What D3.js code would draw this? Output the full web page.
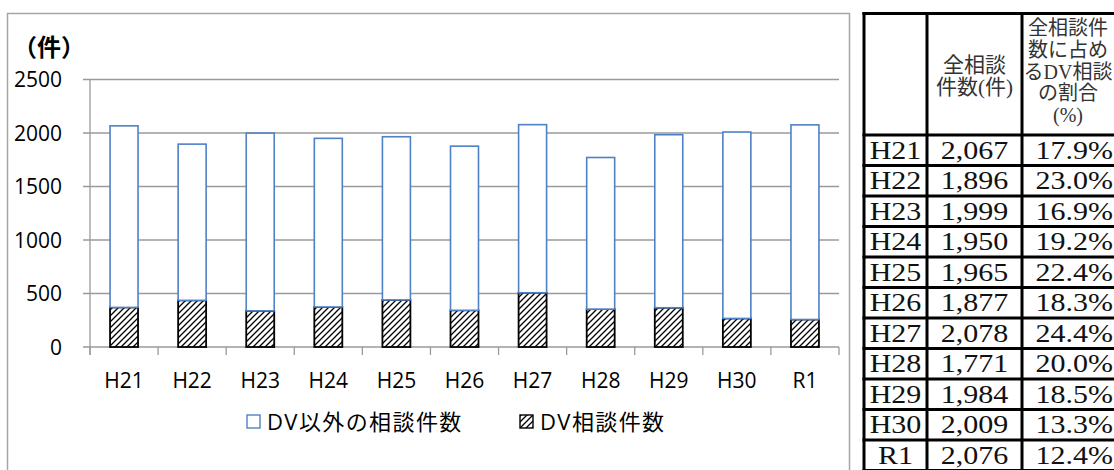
<!DOCTYPE html>
<html>
<head>
<meta charset="utf-8">
<script src="https://cdn.jsdelivr.net/npm/d3@7"></script>
<style>
  body { margin: 0; background: #fff; }
  svg { display: block; }
</style>
</head>
<body>
<svg id="chart" width="1114" height="470"></svg>
<script>
// Données
const categories = ["H21", "H22", "H23", "H24", "H25", "H26", "H27", "H28", "H29", "H30", "R1"];
const totalCounts = [2067, 1896, 1999, 1950, 1965, 1877, 2078, 1771, 1984, 2009, 2076];
const dvRatios = [17.9, 23.0, 16.9, 19.2, 22.4, 18.3, 24.4, 20.0, 18.5, 13.3, 12.4];
const dvCounts = [370, 436, 338, 374, 440, 343, 507, 354, 367, 267, 257];
const otherCounts = [1697, 1460, 1661, 1576, 1525, 1534, 1571, 1417, 1617, 1742, 1819];
const yTicks = [0, 500, 1000, 1500, 2000, 2500];
const seriesNames = ["DV以外の相談件数", "DV相談件数"];
const tableHeader1 = ["全相談", "件数(件)"];
const tableHeader2 = ["全相談件", "数に占め", "るDV相談", "の割合", "(%)"];

const sansFont = "'Open Sans', 'Noto Sans CJK JP', sans-serif";
const cjkFont = "'Noto Sans CJK JP', sans-serif";
const serifFont = "'Liberation Serif', 'Noto Sans CJK JP', serif";

const svg = d3.select("#chart");

// Motif hachuré pour les barres DV
const defs = svg.append("defs");
const hatch = defs.append("pattern")
  .attr("id", "hatch")
  .attr("patternUnits", "userSpaceOnUse")
  .attr("width", 6)
  .attr("height", 6);
hatch.append("rect").attr("width", 6).attr("height", 6).attr("fill", "#fff");
hatch.append("path")
  .attr("d", "M-1,1 l2,-2 M0,6 l6,-6 M5,7 l2,-2")
  .attr("stroke", "#000")
  .attr("stroke-width", 1.3);

// Cadre du graphique
svg.append("path")
  .attr("d", "M7.5,472 V13.5 H849.5 V472")
  .attr("fill", "none")
  .attr("stroke", "#a6a6a6")
  .attr("stroke-width", 1.5);

const plot = {left: 90, right: 839, top: 79.5, bottom: 347};

const x = d3.scaleBand()
  .domain(categories)
  .range([plot.left, plot.right])
  .paddingInner(0.589)
  .paddingOuter(0.589 / 2);

const xEdges = d3.scaleLinear()
  .domain([0, categories.length])
  .range([plot.left, plot.right]);

const y = d3.scaleLinear()
  .domain([0, 2500])
  .range([plot.bottom, plot.top]);

// Quadrillage
svg.append("g")
  .selectAll("line")
  .data(yTicks)
  .enter()
  .append("line")
  .attr("x1", plot.left - 7)
  .attr("x2", plot.right)
  .attr("y1", d => y(d))
  .attr("y2", d => y(d))
  .attr("stroke", "#9a9a9a")
  .attr("stroke-width", 1.3);

// Axe vertical
svg.append("line")
  .attr("x1", plot.left).attr("x2", plot.left)
  .attr("y1", plot.top).attr("y2", plot.bottom + 8)
  .attr("stroke", "#9a9a9a")
  .attr("stroke-width", 1.3);

// Graduations de l'axe horizontal
svg.append("g")
  .selectAll("line")
  .data(d3.range(categories.length + 1))
  .enter()
  .append("line")
  .attr("x1", d => xEdges(d))
  .attr("x2", d => xEdges(d))
  .attr("y1", plot.bottom)
  .attr("y2", plot.bottom + 8)
  .attr("stroke", "#9a9a9a")
  .attr("stroke-width", 1.3);

// Étiquettes Y
svg.append("g")
  .selectAll("text")
  .data(yTicks)
  .enter()
  .append("text")
  .attr("x", 62)
  .attr("y", d => y(d) + 7.5)
  .attr("text-anchor", "end")
  .attr("font-family", sansFont)
  .attr("font-size", "21px")
  .attr("fill", "#000")
  .text(d => d);

// Étiquettes X
svg.append("g")
  .selectAll("text")
  .data(categories)
  .enter()
  .append("text")
  .attr("x", d => x(d) + x.bandwidth() / 2)
  .attr("y", 388)
  .attr("text-anchor", "middle")
  .attr("font-family", sansFont)
  .attr("font-size", "21px")
  .attr("fill", "#000")
  .text(d => d);

// Unité
svg.append("text")
  .attr("x", 13)
  .attr("y", 56)
  .attr("font-family", cjkFont)
  .attr("font-weight", "bold")
  .attr("font-size", "24px")
  .text("（件）");

// Barres empilées
const stackData = categories.map((c, i) => ({cat: c, dv: dvCounts[i], other: otherCounts[i]}));
const stacked = d3.stack().keys(["dv", "other"])(stackData);

const layers = svg.append("g")
  .selectAll("g")
  .data(stacked)
  .enter()
  .append("g");

layers.selectAll("rect")
  .data(d => d.map(v => ({key: d.key, v: v})))
  .enter()
  .append("rect")
  .attr("x", d => x(d.v.data.cat))
  .attr("y", d => y(d.v[1]))
  .attr("width", x.bandwidth())
  .attr("height", d => y(d.v[0]) - y(d.v[1]))
  .attr("fill", d => d.key == "dv" ? "url(#hatch)" : "#fff")
  .attr("stroke", d => d.key == "dv" ? "#000" : "#4f81c7")
  .attr("stroke-width", d => d.key == "dv" ? 1.8 : 1.6);

// Légende
const legendItems = [
  {name: seriesNames[0], x: 247, fill: "#fff", stroke: "#4f81c7"},
  {name: seriesNames[1], x: 520, fill: "url(#hatch)", stroke: "#000"}
];
const legend = svg.append("g")
  .selectAll("g")
  .data(legendItems)
  .enter()
  .append("g");
legend.append("rect")
  .attr("x", d => d.x)
  .attr("y", 415)
  .attr("width", 13)
  .attr("height", 13)
  .attr("fill", d => d.fill)
  .attr("stroke", d => d.stroke)
  .attr("stroke-width", 1.4);
legend.append("text")
  .attr("x", d => d.x + 20)
  .attr("y", 430)
  .attr("font-family", sansFont)
  .attr("font-size", "22px")
  .attr("letter-spacing", "1.4px")
  .attr("fill", "#000")
  .text(d => d.name);

// Tableau
const tableCols = [864, 927, 1022, 1116];
const headerTop = 13.5;
const headerBottom = 135;
const rowH = 30.5;
const table = svg.append("g");

// Textes de l'en-tête
table.append("g")
  .selectAll("text")
  .data(tableHeader1)
  .enter()
  .append("text")
  .attr("x", (tableCols[1] + tableCols[2]) / 2)
  .attr("y", (d, i) => 72 + i * 22)
  .attr("text-anchor", "middle")
  .attr("font-family", serifFont)
  .attr("font-size", "21px")
  .attr("fill", "#333")
  .text(d => d);

table.append("g")
  .selectAll("text")
  .data(tableHeader2)
  .enter()
  .append("text")
  .attr("x", (tableCols[2] + tableCols[3]) / 2 - 1)
  .attr("y", (d, i) => 35 + i * 21.8)
  .attr("text-anchor", "middle")
  .attr("font-family", serifFont)
  .attr("font-size", "20px")
  .attr("fill", "#333")
  .text(d => d);

// Lignes de données (police étirée horizontalement comme le Mincho)
const fmtCount = d3.format(",");
const rows = table.append("g")
  .selectAll("g")
  .data(categories)
  .enter()
  .append("g")
  .attr("transform", (d, i) => "translate(0," + (headerBottom + i * rowH) + ")");

function cellText(sel, xPos, anchor, fn) {
  sel.append("text")
    .attr("transform", "translate(" + xPos + "," + (rowH / 2 + 8.5) + ") scale(1.2,1)")
    .attr("text-anchor", anchor)
    .attr("font-family", serifFont)
    .attr("font-size", "25px")
    .attr("fill", "#111")
    .text(fn);
}
cellText(rows, (tableCols[0] + tableCols[1]) / 2, "middle", d => d);
cellText(rows, (tableCols[1] + tableCols[2]) / 2, "middle", (d, i) => fmtCount(totalCounts[i]));
cellText(rows, 1113, "end", (d, i) => dvRatios[i].toFixed(1) + "%");

// Bordures du tableau
const hLines = [headerTop, headerBottom].concat(d3.range(1, categories.length + 1).map(i => headerBottom + i * rowH));
table.append("g")
  .selectAll("line")
  .data(hLines)
  .enter()
  .append("line")
  .attr("x1", tableCols[0] - 1.5)
  .attr("x2", tableCols[3])
  .attr("y1", d => d)
  .attr("y2", d => d)
  .attr("stroke", "#000")
  .attr("stroke-width", 3);

table.append("g")
  .selectAll("line")
  .data(tableCols)
  .enter()
  .append("line")
  .attr("x1", d => d)
  .attr("x2", d => d)
  .attr("y1", headerTop - 1.5)
  .attr("y2", headerBottom + categories.length * rowH)
  .attr("stroke", "#000")
  .attr("stroke-width", 3);
</script>
</body>
</html>
